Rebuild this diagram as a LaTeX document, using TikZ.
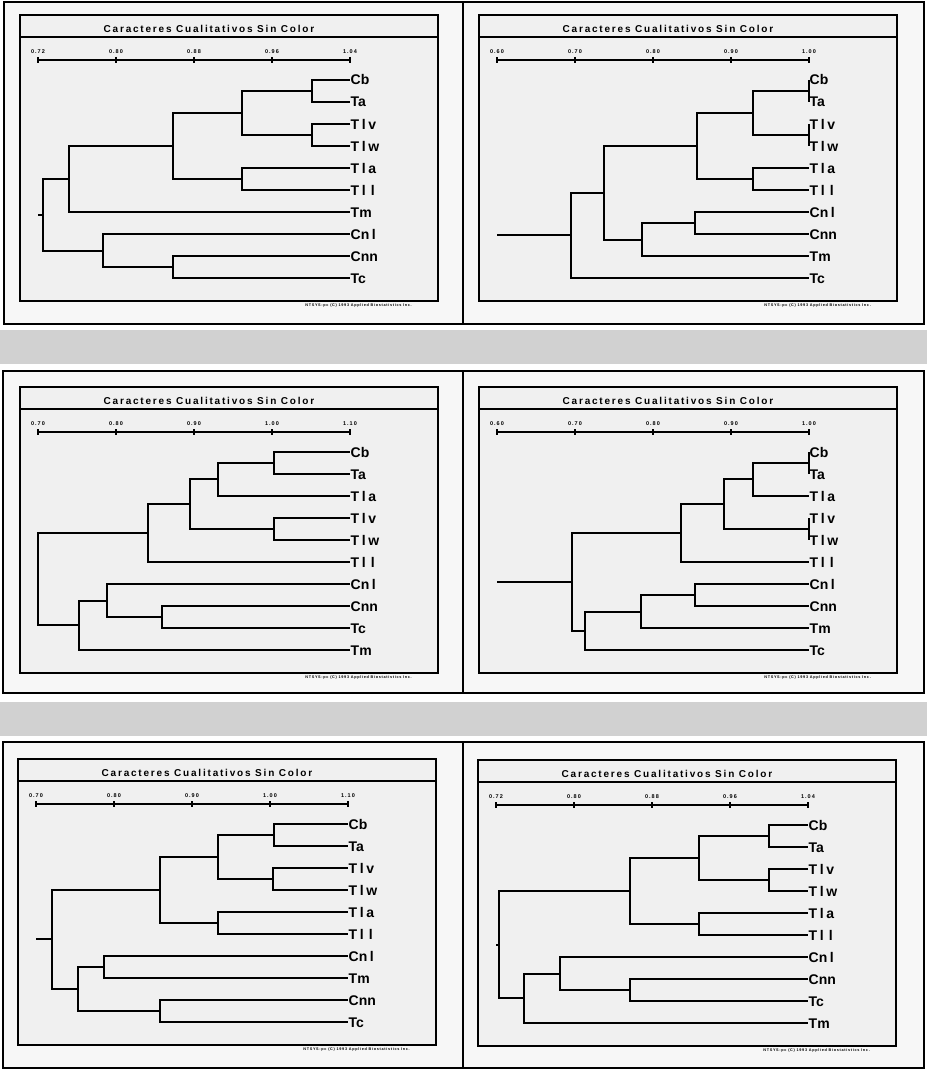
\documentclass[tikz,border=0pt]{standalone}
\usepackage{fontspec}
\setmainfont{Liberation Sans}
\newfontfamily\plotfont[LetterSpace=18]{Liberation Sans}
\definecolor{speckle}{gray}{0.82}
\definecolor{plotbg}{gray}{0.94}
\definecolor{framebg}{gray}{0.97}
\newcommand\wl{\makebox[9pt]{l}}

\begin{document}
\begin{tikzpicture}[
    x=1pt, y=-1pt,
    leaf/.style={anchor=west, inner sep=0.5pt, text height=10pt, text depth=0pt,
                 font=\fontsize{14}{14}\selectfont\bfseries},
    branch/.style={line width=2pt},
    plotframe/.style={draw, line width=1.5pt},
    outerframe/.style={draw, line width=2.6pt},
    axisline/.style={line width=1.6pt},
    plottitle/.style={font=\plotfont\fontsize{10}{10}\selectfont\bfseries, inner sep=0pt},
    ticklbl/.style={font=\plotfont\fontsize{5.5}{5.5}\selectfont\bfseries, inner sep=0pt},
    credit/.style={font=\plotfont\fontsize{3.8}{3.8}\selectfont\bfseries, inner sep=0pt, anchor=north east}
]
\useasboundingbox (0,0) rectangle (927,1070);

% Speckled bands between the rows
\fill[speckle] (0,330) rectangle (927,364);
\fill[speckle] (0,702) rectangle (927,736);

% Outer frames
\draw[outerframe, fill=framebg] (4,2) rectangle (924,324);
\draw[outerframe, fill=framebg] (3,371) rectangle (924,693);
\draw[outerframe, fill=framebg] (3,742) rectangle (924,1068);
\draw[outerframe] (463,2) -- (463,324);
\draw[outerframe] (463,371) -- (463,693);
\draw[outerframe] (463,742) -- (463,1068);

% Plot frame, title and scale of each panel
\foreach \p/\ox/\oy/\ta/\tb/\tc/\td/\te in {
    1/20/15/0.72/0.80/0.88/0.96/1.04,
    2/479/15/0.60/0.70/0.80/0.90/1.00,
    3/20/387/0.70/0.80/0.90/1.00/1.10,
    4/479/387/0.60/0.70/0.80/0.90/1.00,
    5/18/759/0.70/0.80/0.90/1.00/1.10,
    6/478/760/0.72/0.80/0.88/0.96/1.04}{
  \begin{scope}[shift={(\ox,\oy)}]
    \draw[plotframe, fill=plotbg] (0,0) rectangle (418,286);
    \draw[plotframe] (0,22) -- (418,22);
    \node[plottitle] (title\p) at (189,13.5) {Caracteres Cualitativos Sin Color};
    \draw[axisline] (18,45) -- (330,45);
    \foreach \v [count=\k from 0] in {\ta,\tb,\tc,\td,\te}{
      \draw[axisline] (18+78*\k,42) -- (18+78*\k,48);
      \node[ticklbl] (p\p-t\k) at (18+78*\k,37) {\v};
    }
    \node[credit] (credit\p) at (392,288.5) {NTSYS-pc (C) 1993 Applied Biostatistics Inc.};
  \end{scope}
}

% Panel 1 (top left)
\begin{scope}[shift={(20,15)}]
\node[leaf] (p1-Cb)  at (330,65)  {Cb};
\node[leaf] (p1-Ta)  at (330,87)  {Ta};
\node[leaf] (p1-Tlv) at (330,109) {T\wl v};
\node[leaf] (p1-Tlw) at (330,131) {T\wl w};
\node[leaf] (p1-Tla) at (330,153) {T\wl a};
\node[leaf] (p1-Tll) at (330,175) {T\wl\wl};
\node[leaf] (p1-Tm)  at (330,197) {Tm};
\node[leaf] (p1-Cnl) at (330,219) {Cn\wl};
\node[leaf] (p1-Cnn) at (330,241) {Cnn};
\node[leaf] (p1-Tc)  at (330,263) {Tc};
\coordinate (p1-a) at (292,76);
\coordinate (p1-b) at (292,120);
\coordinate (p1-c) at (222,98);
\coordinate (p1-d) at (222,164);
\coordinate (p1-e) at (153,131);
\coordinate (p1-f) at (49,164);
\coordinate (p1-g) at (153,252);
\coordinate (p1-h) at (83,236);
\coordinate (p1-r) at (23,200);
\coordinate (p1-s) at (18,200);
\draw[branch] (p1-Cb.west) -| (p1-a) |- (p1-Ta.west);
\draw[branch] (p1-Tlv.west) -| (p1-b) |- (p1-Tlw.west);
\draw[branch] (p1-a) -| (p1-c) |- (p1-b);
\draw[branch] (p1-Tla.west) -| (p1-d) |- (p1-Tll.west);
\draw[branch] (p1-c) -| (p1-e) |- (p1-d);
\draw[branch] (p1-e) -| (p1-f) |- (p1-Tm.west);
\draw[branch] (p1-Cnn.west) -| (p1-g) |- (p1-Tc.west);
\draw[branch] (p1-Cnl.west) -| (p1-h) |- (p1-g);
\draw[branch] (p1-f) -| (p1-r) |- (p1-h);
\draw[branch] (p1-s) -- (p1-r);
\end{scope}

% Panel 2 (top right)
\begin{scope}[shift={(479,15)}]
\node[leaf] (p2-Cb)  at (330,65)  {Cb};
\node[leaf] (p2-Ta)  at (330,87)  {Ta};
\node[leaf] (p2-Tlv) at (330,109) {T\wl v};
\node[leaf] (p2-Tlw) at (330,131) {T\wl w};
\node[leaf] (p2-Tla) at (330,153) {T\wl a};
\node[leaf] (p2-Tll) at (330,175) {T\wl\wl};
\node[leaf] (p2-Cnl) at (330,197) {Cn\wl};
\node[leaf] (p2-Cnn) at (330,219) {Cnn};
\node[leaf] (p2-Tm)  at (330,241) {Tm};
\node[leaf] (p2-Tc)  at (330,263) {Tc};
\coordinate (p2-a) at (330,76);
\coordinate (p2-b) at (330,120);
\coordinate (p2-c) at (274,98);
\coordinate (p2-d) at (274,164);
\coordinate (p2-e) at (218,131);
\coordinate (p2-f) at (216,208);
\coordinate (p2-g) at (163,225);
\coordinate (p2-h) at (125,178);
\coordinate (p2-r) at (92,220);
\coordinate (p2-s) at (18,220);
\draw[branch] (p2-Cb.west) -| (p2-a) |- (p2-Ta.west);
\draw[branch] (p2-Tlv.west) -| (p2-b) |- (p2-Tlw.west);
\draw[branch] (p2-a) -| (p2-c) |- (p2-b);
\draw[branch] (p2-Tla.west) -| (p2-d) |- (p2-Tll.west);
\draw[branch] (p2-c) -| (p2-e) |- (p2-d);
\draw[branch] (p2-Cnl.west) -| (p2-f) |- (p2-Cnn.west);
\draw[branch] (p2-f) -| (p2-g) |- (p2-Tm.west);
\draw[branch] (p2-e) -| (p2-h) |- (p2-g);
\draw[branch] (p2-h) -| (p2-r) |- (p2-Tc.west);
\draw[branch] (p2-s) -- (p2-r);
\end{scope}

% Panel 3 (middle left)
\begin{scope}[shift={(20,387)}]
\node[leaf] (p3-Cb)  at (330,65)  {Cb};
\node[leaf] (p3-Ta)  at (330,87)  {Ta};
\node[leaf] (p3-Tla) at (330,109) {T\wl a};
\node[leaf] (p3-Tlv) at (330,131) {T\wl v};
\node[leaf] (p3-Tlw) at (330,153) {T\wl w};
\node[leaf] (p3-Tll) at (330,175) {T\wl\wl};
\node[leaf] (p3-Cnl) at (330,197) {Cn\wl};
\node[leaf] (p3-Cnn) at (330,219) {Cnn};
\node[leaf] (p3-Tc)  at (330,241) {Tc};
\node[leaf] (p3-Tm)  at (330,263) {Tm};
\coordinate (p3-a) at (254,76);
\coordinate (p3-b) at (198,92);
\coordinate (p3-c) at (254,142);
\coordinate (p3-d) at (170,117);
\coordinate (p3-e) at (128,146);
\coordinate (p3-f) at (142,230);
\coordinate (p3-g) at (87,214);
\coordinate (p3-h) at (59,238);
\coordinate (p3-r) at (18,192);
\draw[branch] (p3-Cb.west) -| (p3-a) |- (p3-Ta.west);
\draw[branch] (p3-a) -| (p3-b) |- (p3-Tla.west);
\draw[branch] (p3-Tlv.west) -| (p3-c) |- (p3-Tlw.west);
\draw[branch] (p3-b) -| (p3-d) |- (p3-c);
\draw[branch] (p3-d) -| (p3-e) |- (p3-Tll.west);
\draw[branch] (p3-Cnn.west) -| (p3-f) |- (p3-Tc.west);
\draw[branch] (p3-Cnl.west) -| (p3-g) |- (p3-f);
\draw[branch] (p3-g) -| (p3-h) |- (p3-Tm.west);
\draw[branch] (p3-e) -| (p3-r) |- (p3-h);
\end{scope}

% Panel 4 (middle right)
\begin{scope}[shift={(479,387)}]
\node[leaf] (p4-Cb)  at (330,65)  {Cb};
\node[leaf] (p4-Ta)  at (330,87)  {Ta};
\node[leaf] (p4-Tla) at (330,109) {T\wl a};
\node[leaf] (p4-Tlv) at (330,131) {T\wl v};
\node[leaf] (p4-Tlw) at (330,153) {T\wl w};
\node[leaf] (p4-Tll) at (330,175) {T\wl\wl};
\node[leaf] (p4-Cnl) at (330,197) {Cn\wl};
\node[leaf] (p4-Cnn) at (330,219) {Cnn};
\node[leaf] (p4-Tm)  at (330,241) {Tm};
\node[leaf] (p4-Tc)  at (330,263) {Tc};
\coordinate (p4-a) at (330,76);
\coordinate (p4-b) at (274,92);
\coordinate (p4-c) at (330,142);
\coordinate (p4-d) at (245,117);
\coordinate (p4-e) at (202,146);
\coordinate (p4-f) at (216,208);
\coordinate (p4-g) at (162,225);
\coordinate (p4-h) at (106,244);
\coordinate (p4-r) at (93,195);
\coordinate (p4-s) at (18,195);
\draw[branch] (p4-Cb.west) -| (p4-a) |- (p4-Ta.west);
\draw[branch] (p4-a) -| (p4-b) |- (p4-Tla.west);
\draw[branch] (p4-Tlv.west) -| (p4-c) |- (p4-Tlw.west);
\draw[branch] (p4-b) -| (p4-d) |- (p4-c);
\draw[branch] (p4-d) -| (p4-e) |- (p4-Tll.west);
\draw[branch] (p4-Cnl.west) -| (p4-f) |- (p4-Cnn.west);
\draw[branch] (p4-f) -| (p4-g) |- (p4-Tm.west);
\draw[branch] (p4-g) -| (p4-h) |- (p4-Tc.west);
\draw[branch] (p4-e) -| (p4-r) |- (p4-h);
\draw[branch] (p4-s) -- (p4-r);
\end{scope}

% Panel 5 (bottom left)
\begin{scope}[shift={(18,759)}]
\node[leaf] (p5-Cb)  at (330,65)  {Cb};
\node[leaf] (p5-Ta)  at (330,87)  {Ta};
\node[leaf] (p5-Tlv) at (330,109) {T\wl v};
\node[leaf] (p5-Tlw) at (330,131) {T\wl w};
\node[leaf] (p5-Tla) at (330,153) {T\wl a};
\node[leaf] (p5-Tll) at (330,175) {T\wl\wl};
\node[leaf] (p5-Cnl) at (330,197) {Cn\wl};
\node[leaf] (p5-Tm)  at (330,219) {Tm};
\node[leaf] (p5-Cnn) at (330,241) {Cnn};
\node[leaf] (p5-Tc)  at (330,263) {Tc};
\coordinate (p5-a) at (256,76);
\coordinate (p5-b) at (255,120);
\coordinate (p5-c) at (200,98);
\coordinate (p5-d) at (200,164);
\coordinate (p5-e) at (142,131);
\coordinate (p5-f) at (86,208);
\coordinate (p5-g) at (142,252);
\coordinate (p5-h) at (60,230);
\coordinate (p5-r) at (34,180);
\coordinate (p5-s) at (18,180);
\draw[branch] (p5-Cb.west) -| (p5-a) |- (p5-Ta.west);
\draw[branch] (p5-Tlv.west) -| (p5-b) |- (p5-Tlw.west);
\draw[branch] (p5-a) -| (p5-c) |- (p5-b);
\draw[branch] (p5-Tla.west) -| (p5-d) |- (p5-Tll.west);
\draw[branch] (p5-c) -| (p5-e) |- (p5-d);
\draw[branch] (p5-Cnl.west) -| (p5-f) |- (p5-Tm.west);
\draw[branch] (p5-Cnn.west) -| (p5-g) |- (p5-Tc.west);
\draw[branch] (p5-f) -| (p5-h) |- (p5-g);
\draw[branch] (p5-e) -| (p5-r) |- (p5-h);
\draw[branch] (p5-s) -- (p5-r);
\end{scope}

% Panel 6 (bottom right)
\begin{scope}[shift={(478,760)}]
\node[leaf] (p6-Cb)  at (330,65)  {Cb};
\node[leaf] (p6-Ta)  at (330,87)  {Ta};
\node[leaf] (p6-Tlv) at (330,109) {T\wl v};
\node[leaf] (p6-Tlw) at (330,131) {T\wl w};
\node[leaf] (p6-Tla) at (330,153) {T\wl a};
\node[leaf] (p6-Tll) at (330,175) {T\wl\wl};
\node[leaf] (p6-Cnl) at (330,197) {Cn\wl};
\node[leaf] (p6-Cnn) at (330,219) {Cnn};
\node[leaf] (p6-Tc)  at (330,241) {Tc};
\node[leaf] (p6-Tm)  at (330,263) {Tm};
\coordinate (p6-a) at (291,76);
\coordinate (p6-b) at (291,120);
\coordinate (p6-c) at (221,98);
\coordinate (p6-d) at (221,164);
\coordinate (p6-e) at (152,131);
\coordinate (p6-f) at (152,230);
\coordinate (p6-g) at (82,214);
\coordinate (p6-h) at (46,238);
\coordinate (p6-r) at (21,185);
\coordinate (p6-s) at (18,185);
\draw[branch] (p6-Cb.west) -| (p6-a) |- (p6-Ta.west);
\draw[branch] (p6-Tlv.west) -| (p6-b) |- (p6-Tlw.west);
\draw[branch] (p6-a) -| (p6-c) |- (p6-b);
\draw[branch] (p6-Tla.west) -| (p6-d) |- (p6-Tll.west);
\draw[branch] (p6-c) -| (p6-e) |- (p6-d);
\draw[branch] (p6-Cnn.west) -| (p6-f) |- (p6-Tc.west);
\draw[branch] (p6-Cnl.west) -| (p6-g) |- (p6-f);
\draw[branch] (p6-g) -| (p6-h) |- (p6-Tm.west);
\draw[branch] (p6-e) -| (p6-r) |- (p6-h);
\draw[branch] (p6-s) -- (p6-r);
\end{scope}

\end{tikzpicture}
\end{document}
